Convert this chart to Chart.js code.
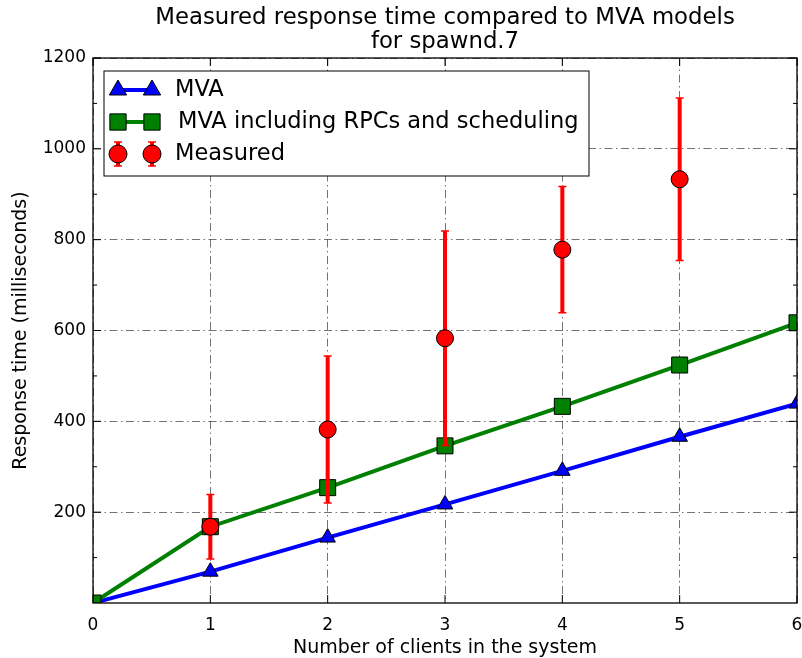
<!DOCTYPE html>
<html>
<head>
<meta charset="utf-8">
<script src="https://cdn.jsdelivr.net/npm/chart.js@4.4.1/dist/chart.umd.min.js"></script>
<style>
  body { margin: 0; background: #fff; }
  canvas { display: block; }
</style>
</head>
<body>
<canvas id="grafica" width="802" height="658"></canvas>
<script>
// datos
const clientes = [0, 1, 2, 3, 4, 5, 6];
const mva = [0, 69, 144, 217, 291, 366, 439];
const mvaRpc = [0, 168, 254, 346, 433, 524, 617];
const medidoX = [1, 2, 3, 4, 5];
const medido = [168, 382, 583, 778, 933];
const medidoErr = [71, 162, 236, 139, 179];
const xTicks = [0, 1, 2, 3, 4, 5, 6];
const yTicks = [200, 400, 600, 800, 1000, 1200];
const yMinor = [100, 300, 500, 700, 900, 1100];
const titulo = ['Measured response time compared to MVA models', 'for spawnd.7'];
const etiquetas = ['MVA', 'MVA including RPCs and scheduling', 'Measured'];

const FONT = '"DejaVu Sans", sans-serif';

const toPoints = (xs, ys) => xs.map((x, i) => ({ x: x, y: ys[i] }));

// barras de error debajo de los circulos
const errorBars = {
  id: 'errorBars',
  beforeDatasetDraw(chart, args) {
    if (args.index !== 2) return;
    const ctx = chart.ctx;
    const xs = chart.scales.x, ys = chart.scales.y;
    ctx.save();
    ctx.strokeStyle = '#ff0000';
    medidoX.forEach((x, i) => {
      const px = xs.getPixelForValue(x);
      const top = ys.getPixelForValue(medido[i] + medidoErr[i]);
      const bot = ys.getPixelForValue(medido[i] - medidoErr[i]);
      ctx.lineWidth = 4;
      ctx.beginPath();
      ctx.moveTo(px, top);
      ctx.lineTo(px, bot);
      ctx.stroke();
      ctx.lineWidth = 1.5;
      ctx.beginPath();
      ctx.moveTo(px - 4, top); ctx.lineTo(px + 4, top);
      ctx.moveTo(px - 4, bot); ctx.lineTo(px + 4, bot);
      ctx.stroke();
    });
    ctx.restore();
  }
};

const marker = (ctx, style, x, y, r) => {
  Chart.helpers.drawPoint(ctx, { pointStyle: style, radius: r, borderWidth: 1 }, x, y);
};

// marco, ticks interiores, titulo y leyenda
const decor = {
  id: 'decor',
  afterDraw(chart) {
    const ctx = chart.ctx;
    const a = chart.chartArea;
    const xs = chart.scales.x, ys = chart.scales.y;
    ctx.save();
    // marco
    ctx.strokeStyle = '#000';
    ctx.lineWidth = 1.3;
    ctx.strokeRect(a.left, a.top, a.right - a.left, a.bottom - a.top);
    // ticks
    ctx.lineWidth = 1;
    ctx.beginPath();
    yTicks.forEach(v => {
      const py = ys.getPixelForValue(v);
      ctx.moveTo(a.left, py); ctx.lineTo(a.left + 8, py);
      ctx.moveTo(a.right, py); ctx.lineTo(a.right - 8, py);
    });
    yMinor.forEach(v => {
      const py = ys.getPixelForValue(v);
      ctx.moveTo(a.left, py); ctx.lineTo(a.left + 4, py);
      ctx.moveTo(a.right, py); ctx.lineTo(a.right - 4, py);
    });
    xTicks.forEach(v => {
      const px = xs.getPixelForValue(v);
      ctx.moveTo(px, a.bottom); ctx.lineTo(px, a.bottom - 8);
      ctx.moveTo(px, a.top); ctx.lineTo(px, a.top + 8);
    });
    ctx.stroke();

    // titulo
    ctx.fillStyle = '#000';
    ctx.font = '22.8px ' + FONT;
    ctx.textAlign = 'center';
    ctx.textBaseline = 'middle';
    const cx = (a.left + a.right) / 2;
    ctx.fillText(titulo[0], cx, 18);
    ctx.fillText(titulo[1], cx, 42);

    // leyenda
    const bx = a.left + 11, by = a.top + 13, bw = 485, bh = 105;
    ctx.fillStyle = '#fff';
    ctx.fillRect(bx, by, bw, bh);
    ctx.strokeStyle = '#000';
    ctx.lineWidth = 1;
    ctx.strokeRect(bx, by, bw, bh);
    const x1 = bx + 14, x2 = bx + 48, tx = bx + 71;
    const rows = [by + 19, by + 51, by + 83];
    // MVA
    ctx.strokeStyle = '#0000ff'; ctx.lineWidth = 4;
    ctx.beginPath(); ctx.moveTo(x1, rows[0]); ctx.lineTo(x2, rows[0]); ctx.stroke();
    ctx.fillStyle = '#0000ff'; ctx.strokeStyle = '#000'; ctx.lineWidth = 1;
    marker(ctx, 'triangle', x1, rows[0], 10);
    marker(ctx, 'triangle', x2, rows[0], 10);
    // MVA + RPC
    ctx.strokeStyle = '#008000'; ctx.lineWidth = 4;
    ctx.beginPath(); ctx.moveTo(x1, rows[1]); ctx.lineTo(x2, rows[1]); ctx.stroke();
    ctx.fillStyle = '#008000'; ctx.strokeStyle = '#000'; ctx.lineWidth = 1;
    marker(ctx, 'rect', x1, rows[1], 11.5);
    marker(ctx, 'rect', x2, rows[1], 11.5);
    // Measured
    [x1, x2].forEach(px => {
      ctx.strokeStyle = '#ff0000'; ctx.lineWidth = 4;
      ctx.beginPath(); ctx.moveTo(px, rows[2] - 12); ctx.lineTo(px, rows[2] + 12); ctx.stroke();
      ctx.lineWidth = 1.5;
      ctx.beginPath();
      ctx.moveTo(px - 4, rows[2] - 12); ctx.lineTo(px + 4, rows[2] - 12);
      ctx.moveTo(px - 4, rows[2] + 12); ctx.lineTo(px + 4, rows[2] + 12);
      ctx.stroke();
      ctx.fillStyle = '#ff0000'; ctx.strokeStyle = '#000'; ctx.lineWidth = 1;
      marker(ctx, 'circle', px, rows[2], 9);
    });
    ctx.fillStyle = '#000';
    ctx.font = '22.5px ' + FONT;
    ctx.textAlign = 'left';
    ctx.fillText(etiquetas[0], tx, rows[0]);
    ctx.fillText(etiquetas[1], tx + 3, rows[1]);
    ctx.fillText(etiquetas[2], tx, rows[2]);
    ctx.restore();
  }
};

const grafica = new Chart(document.getElementById('grafica').getContext('2d'), {
  type: 'line',
  data: {
    datasets: [{
      label: etiquetas[0],
      data: toPoints(clientes, mva),
      borderColor: '#0000ff',
      borderWidth: 4,
      pointStyle: 'triangle',
      pointRadius: 9,
      pointBackgroundColor: '#0000ff',
      pointBorderColor: '#000',
      pointBorderWidth: 1,
      order: 3
    }, {
      label: etiquetas[1],
      data: toPoints(clientes, mvaRpc),
      borderColor: '#008000',
      borderWidth: 4,
      pointStyle: 'rect',
      pointRadius: 11.3,
      pointBackgroundColor: '#008000',
      pointBorderColor: '#000',
      pointBorderWidth: 1,
      order: 2
    }, {
      label: etiquetas[2],
      data: toPoints(medidoX, medido),
      showLine: false,
      borderColor: '#ff0000',
      pointStyle: 'circle',
      pointRadius: 8.5,
      pointBackgroundColor: '#ff0000',
      pointBorderColor: '#000',
      pointBorderWidth: 1,
      order: 1
    }]
  },
  options: {
    responsive: false,
    animation: false,
    layout: { autoPadding: false, padding: { top: 58, right: 5, left: 0, bottom: 0 } },
    plugins: {
      legend: { display: false },
      title: { display: false },
      tooltip: { enabled: false }
    },
    scales: {
      x: {
        type: 'linear',
        min: 0,
        max: 6,
        afterBuildTicks: s => { s.ticks = xTicks.map(v => ({ value: v })); },
        afterFit: s => { s.height = 55; s.paddingLeft = 0; s.paddingRight = 0; },
        grid: { color: 'rgba(0,0,0,0.55)', lineWidth: 1, drawTicks: false },
        border: { display: false, dash: [8, 3.5, 1.5, 3.5] },
        ticks: { color: '#000', padding: 12, font: { family: FONT, size: 17 }, maxRotation: 0,
                 callback: v => String(v) },
        title: {
          display: true,
          text: 'Number of clients in the system',
          color: '#000',
          font: { family: FONT, size: 19, lineHeight: 1 },
          padding: { top: 0, bottom: 0 }
        }
      },
      y: {
        min: 0,
        max: 1200,
        afterBuildTicks: s => { s.ticks = yTicks.map(v => ({ value: v })); },
        afterFit: s => { s.width = 93; },
        grid: { color: 'rgba(0,0,0,0.55)', lineWidth: 1, drawTicks: false },
        border: { display: false, dash: [8, 3.5, 1.5, 3.5] },
        ticks: { color: '#000', padding: 7, font: { family: FONT, size: 17 },
                 callback: v => String(v) },
        title: {
          display: true,
          text: 'Response time (milliseconds)',
          color: '#000',
          font: { family: FONT, size: 19, lineHeight: 1 },
          padding: { top: 12, bottom: 0 }
        }
      }
    }
  },
  plugins: [errorBars, decor]
});
</script>
</body>
</html>
